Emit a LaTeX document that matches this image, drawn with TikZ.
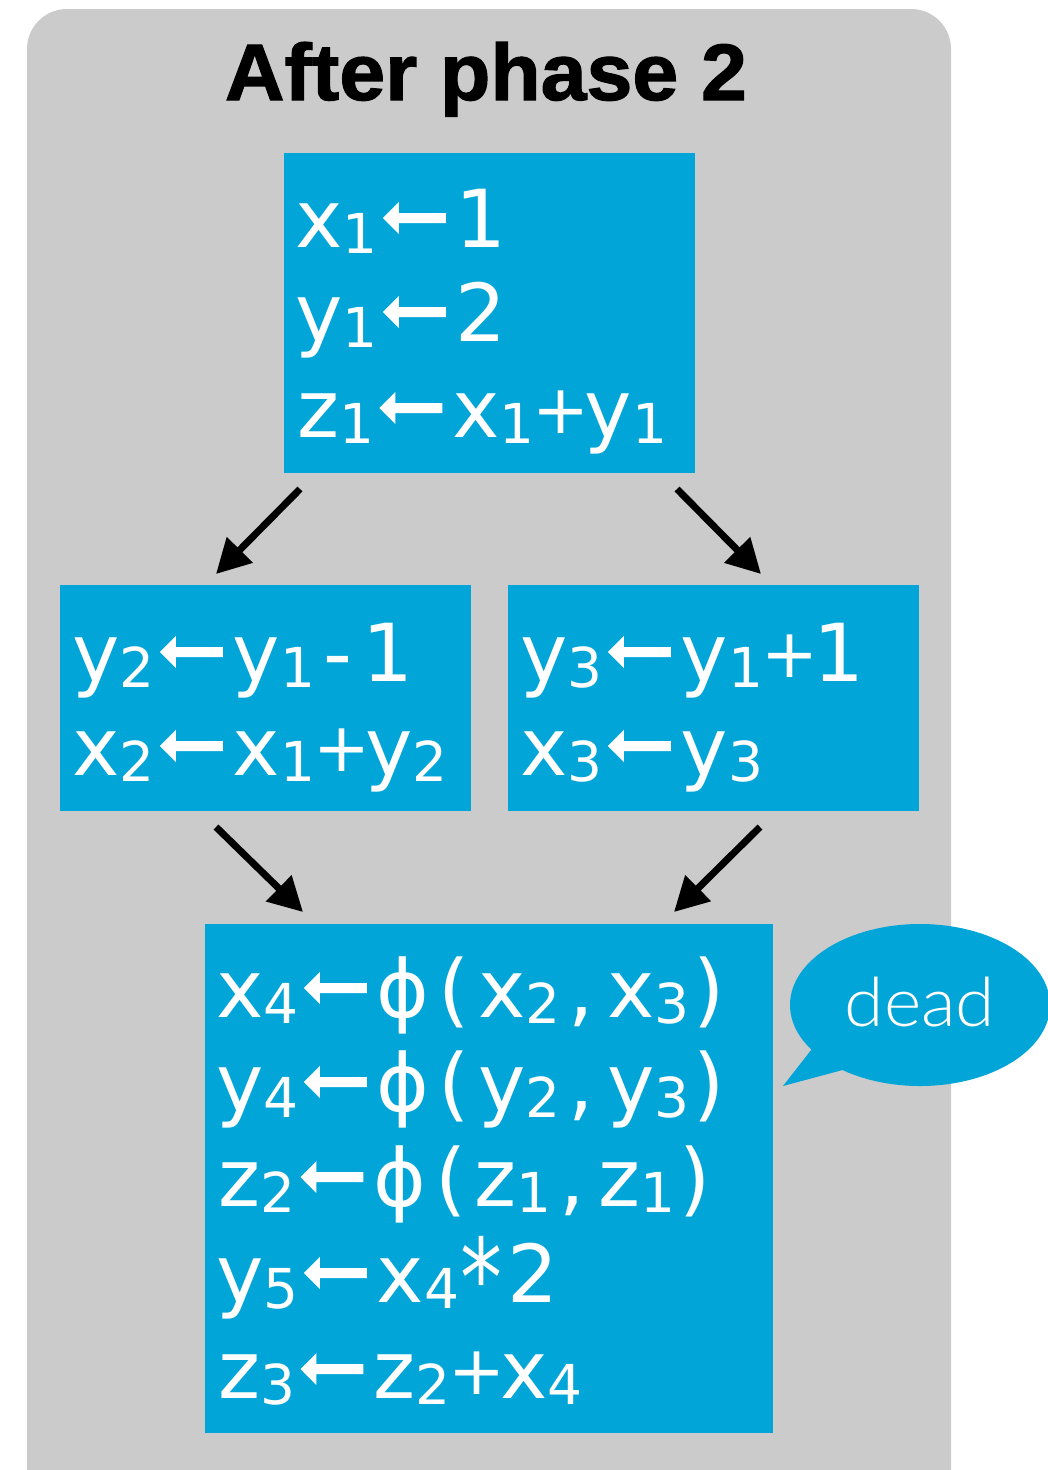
\documentclass[tikz,border=0pt]{standalone}
\usepackage{graphicx}
\usepackage{fontspec}
\setmainfont{DejaVu Sans}
\newfontfamily\titlefont{Liberation Sans}[BoldFeatures={FakeBold=1.5}]
\newfontfamily\deadfont{Lato}[UprightFont=* Light]
\usetikzlibrary{arrows.meta,shapes.geometric}
\definecolor{boxblue}{RGB}{2,165,216}
\definecolor{panelgray}{RGB}{203,203,203}
\newcommand\subs[1]{\raisebox{-6pt}{\fontsize{55}{55}\selectfont #1}}
\newcommand\larr{\hspace{5pt}\tikz[x=1pt,y=1pt,baseline=0pt]{\useasboundingbox (0,0) rectangle (63,45);
  \fill[white] (0,29) -- (16,45) -- (16,34) -- (63,34) -- (63,24) -- (16,24) -- (16,13) -- cycle;}\hspace{10pt}}
\newcommand\pl{\hspace{-2pt}\raisebox{3.4pt}{\scalebox{0.85}{+}}\hspace{-5pt}}
\newcommand\mn{\hspace{8pt}-\hspace{10pt}}
\newcommand\lp{\hspace{9pt}(\hspace{8.5pt}}
\newcommand\cm{\hspace{8pt},\hspace{13pt}}
\newcommand\rp{\hspace{4pt})}
\newcommand\astk{\hspace{1pt}\raisebox{-14pt}{\scalebox{1.05}[1.35]{*}}\hspace{5pt}}
\begin{document}
\begin{tikzpicture}[x=1pt,y=-1pt,
  panel/.style={fill=panelgray, rounded corners=40pt, inner sep=0, outer sep=0},
  box/.style={fill=boxblue, inner sep=0, outer sep=0},
  code/.style={anchor=base west, inner sep=0, outer sep=0, text=white,
    font=\fontsize{80}{95}\selectfont},
  arr/.style={line width=7pt, draw=black, -{Triangle[length=34pt,width=35pt]}}]
\useasboundingbox (0,0) rectangle (1048,1470);
\node[panel, minimum width=924pt, minimum height=1501pt] (panel) at (489,759.5) {};
\node[anchor=base, inner sep=0, font=\titlefont\bfseries\fontsize{80}{80}\selectfont] (title) at (486,100) {\scalebox{1.03}[1]{After phase 2}};
% blocks
\node[box, minimum width=411pt, minimum height=320pt] (b1) at (489.5,313) {};
\node[box, minimum width=411pt, minimum height=226pt] (b2) at (265.5,698) {};
\node[box, minimum width=411pt, minimum height=226pt] (b3) at (713.5,698) {};
\node[box, minimum width=568pt, minimum height=509pt] (b4) at (489,1178.5) {};
% code lines
\node[code] (b1l1) at (295.5,247) {x\subs{1}\larr 1};
\node[code] (b1l2) at (295.5,341) {y\subs{1}\larr 2};
\node[code] (b1l3) at (297.5,437) {z\subs{1}\larr x\subs{1}\pl y\subs{1}};
\node[code] (b2l1) at (72.5,681) {y\subs{2}\larr y\subs{1}\mn 1};
\node[code] (b2l2) at (72.5,775) {x\subs{2}\larr x\subs{1}\pl y\subs{2}};
\node[code] (b3l1) at (520.5,681) {y\subs{3}\larr y\subs{1}\pl 1};
\node[code] (b3l2) at (520.5,775) {x\subs{3}\larr y\subs{3}};
\node[code] (b4l1) at (216.5,1017) {x\subs{4}\larr ϕ\lp x\subs{2}\cm x\subs{3}\rp};
\node[code] (b4l2) at (216.5,1111) {y\subs{4}\larr ϕ\lp y\subs{2}\cm y\subs{3}\rp};
\node[code] (b4l3) at (218.5,1206) {z\subs{2}\larr ϕ\lp z\subs{1}\cm z\subs{1}\rp};
\node[code] (b4l4) at (216.5,1302) {y\subs{5}\larr x\subs{4}\astk 2};
\node[code] (b4l5) at (218.5,1398) {z\subs{3}\larr z\subs{2}\pl x\subs{4}};
% arrows
\coordinate (a1s) at (300,489); \coordinate (a1e) at (216,574);
\coordinate (a2s) at (677,489); \coordinate (a2e) at (761,574);
\coordinate (a3s) at (216,827); \coordinate (a3e) at (303,912);
\coordinate (a4s) at (760,827); \coordinate (a4e) at (674,912);
\draw[arr] (a1s) -- (a1e);
\draw[arr] (a2s) -- (a2e);
\draw[arr] (a3s) -- (a3e);
\draw[arr] (a4s) -- (a4e);
% speech bubble
\node[ellipse, fill=boxblue, inner sep=0, minimum width=260pt, minimum height=162pt] (bubble) at (920,1005) {};
\coordinate (tail1) at (815,1045);
\coordinate (tailtip) at (783,1086);
\coordinate (tail2) at (850,1068);
\fill[boxblue] (tail1) -- (tailtip) -- (tail2) -- cycle;
\node[anchor=base, inner sep=0, text=white, font=\deadfont\fontsize{68}{68}\selectfont] (deadlbl) at (920,1026) {\scalebox{1.05}[1]{dead}};
\end{tikzpicture}
\end{document}
